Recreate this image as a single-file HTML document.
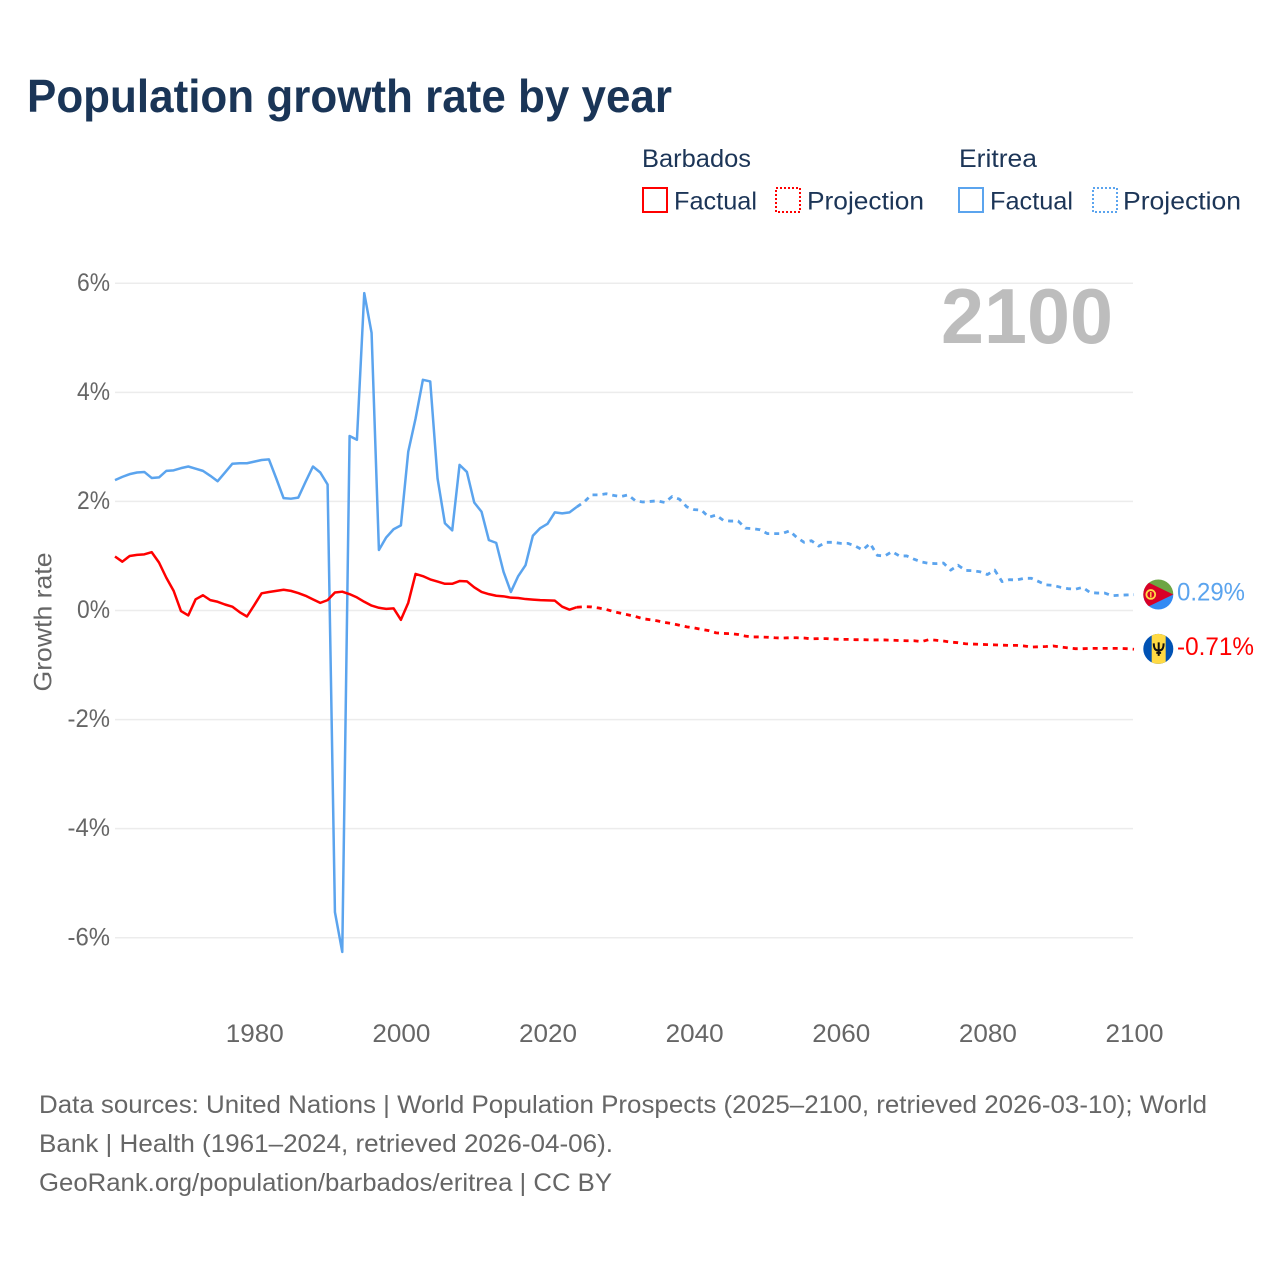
<!DOCTYPE html>
<html lang="en">
<head>
<meta charset="utf-8">
<title>Population growth rate by year</title>
<style>
html,body{margin:0;padding:0;background:#fff;width:1280px;height:1280px;overflow:hidden}
svg{display:block}
text{font-family:"Liberation Sans",sans-serif}
.tick{font-size:25px;fill:#666}
.legend{font-size:25px;fill:#1c3557}
.foot{font-size:25px;fill:#666}
</style>
</head>
<body>
<svg id="chart" width="1280" height="1280" viewBox="0 0 1280 1280" xmlns="http://www.w3.org/2000/svg">
  <defs>
    <clipPath id="eritrea-clip"><circle cx="1158.3" cy="0" r="15"/></clipPath>
    <clipPath id="barbados-clip"><circle cx="1158.3" cy="0" r="15"/></clipPath>
  </defs>
  <text x="27" y="112" font-size="46" font-weight="700" fill="#1a3557" textLength="645" lengthAdjust="spacingAndGlyphs">Population growth rate by year</text>

  <g>
    <text class="legend" x="642" y="167" textLength="109" lengthAdjust="spacingAndGlyphs">Barbados</text>
    <rect x="643" y="188" width="24" height="24" fill="none" stroke="#ff0000" stroke-width="2"/>
    <text class="legend" x="674" y="209.5" textLength="83" lengthAdjust="spacingAndGlyphs">Factual</text>
    <rect x="776" y="188" width="24" height="24" fill="none" stroke="#ff0000" stroke-width="2" stroke-dasharray="2 2"/>
    <text class="legend" x="807" y="209.5" textLength="117" lengthAdjust="spacingAndGlyphs">Projection</text>
    <text class="legend" x="959" y="167" textLength="78" lengthAdjust="spacingAndGlyphs">Eritrea</text>
    <rect x="959" y="188" width="24" height="24" fill="none" stroke="#5ba4ee" stroke-width="2"/>
    <text class="legend" x="990" y="209.5" textLength="83" lengthAdjust="spacingAndGlyphs">Factual</text>
    <rect x="1093" y="188" width="24" height="24" fill="none" stroke="#5ba4ee" stroke-width="2" stroke-dasharray="2 2"/>
    <text class="legend" x="1123" y="209.5" textLength="118" lengthAdjust="spacingAndGlyphs">Projection</text>
  </g>

  <g id="grid"></g>
  <g id="yticks"></g>
  <g id="xticks"></g>

  <text transform="translate(51.5,622) rotate(-90)" text-anchor="middle" font-size="25" fill="#666" textLength="139" lengthAdjust="spacingAndGlyphs">Growth rate</text>

  <text x="941" y="343" font-size="78" font-weight="700" fill="#bdbdbd" textLength="172" lengthAdjust="spacingAndGlyphs">2100</text>

  <g id="series"></g>
  <g id="ends"></g>

  <g>
    <text class="foot" x="39" y="1113" textLength="1168" lengthAdjust="spacingAndGlyphs">Data sources: United Nations | World Population Prospects (2025–2100, retrieved 2026-03-10); World</text>
    <text class="foot" x="39" y="1152" textLength="574" lengthAdjust="spacingAndGlyphs">Bank | Health (1961–2024, retrieved 2026-04-06).</text>
    <text class="foot" x="39" y="1191" textLength="573" lengthAdjust="spacingAndGlyphs">GeoRank.org/population/barbados/eritrea | CC BY</text>
  </g>
</svg>
<script>
const factualStartYear = 1961;
const projectionStartYear = 2024;
const xTickYears = [1980, 2000, 2020, 2040, 2060, 2080, 2100];
const yTickValues = [6, 4, 2, 0, -2, -4, -6];

const barbadosFactual = [0.99,0.895,1.0,1.02,1.03,1.07,0.88,0.60,0.36,-0.01,-0.09,0.205,0.28,0.19,0.16,0.11,0.07,-0.03,-0.11,0.10,0.315,0.34,0.36,0.38,0.36,0.32,0.27,0.205,0.14,0.19,0.33,0.345,0.30,0.24,0.16,0.09,0.05,0.03,0.04,-0.17,0.14,0.67,0.63,0.57,0.53,0.49,0.49,0.54,0.535,0.425,0.34,0.30,0.27,0.26,0.235,0.23,0.21,0.20,0.19,0.185,0.18,0.07,0.015,0.06];
const barbadosProjection = [0.06,0.07,0.065,0.045,0.02,-0.02,-0.05,-0.08,-0.11,-0.15,-0.17,-0.19,-0.22,-0.24,-0.27,-0.30,-0.32,-0.345,-0.37,-0.41,-0.42,-0.425,-0.44,-0.47,-0.485,-0.485,-0.49,-0.50,-0.505,-0.50,-0.50,-0.505,-0.52,-0.515,-0.515,-0.525,-0.53,-0.53,-0.535,-0.535,-0.54,-0.54,-0.54,-0.545,-0.55,-0.555,-0.555,-0.57,-0.535,-0.545,-0.56,-0.58,-0.59,-0.61,-0.615,-0.62,-0.625,-0.63,-0.635,-0.64,-0.64,-0.65,-0.67,-0.665,-0.66,-0.65,-0.67,-0.685,-0.70,-0.70,-0.695,-0.695,-0.695,-0.695,-0.695,-0.70,-0.71];
const eritreaFactual = [2.39,2.45,2.50,2.53,2.54,2.43,2.44,2.56,2.57,2.61,2.64,2.60,2.56,2.47,2.37,2.53,2.69,2.70,2.70,2.73,2.76,2.77,2.42,2.06,2.05,2.07,2.36,2.64,2.53,2.31,-5.53,-6.26,3.2,3.13,5.82,5.09,1.11,1.34,1.49,1.56,2.91,3.52,4.23,4.20,2.42,1.60,1.47,2.67,2.54,1.98,1.81,1.29,1.24,0.71,0.34,0.63,0.83,1.37,1.51,1.59,1.80,1.78,1.80,1.90];
const eritreaProjection = [1.90,1.99,2.12,2.12,2.14,2.11,2.09,2.12,2.01,1.99,2.0,2.01,1.98,2.09,2.04,1.90,1.85,1.84,1.71,1.75,1.65,1.64,1.64,1.51,1.50,1.48,1.41,1.41,1.41,1.46,1.34,1.25,1.28,1.18,1.25,1.25,1.23,1.23,1.18,1.11,1.23,1.01,1.00,1.08,1.00,1.00,0.94,0.89,0.865,0.86,0.87,0.74,0.83,0.735,0.73,0.71,0.66,0.74,0.53,0.565,0.56,0.59,0.59,0.53,0.47,0.46,0.425,0.40,0.39,0.425,0.33,0.32,0.32,0.27,0.28,0.285,0.29];

const NS = 'http://www.w3.org/2000/svg';
function xScale(year) { return 115 + (year - 1961) * (1134 - 115) / (2100 - 1961); }
function yScale(v) { return 610.5 - v * (938 - 283.5) / 12; }
function make(tag, attrs, parent) {
  const el = document.createElementNS(NS, tag);
  for (const k in attrs) el.setAttribute(k, attrs[k]);
  parent.appendChild(el);
  return el;
}
function pathFrom(values, startYear) {
  return values.map((v, i) => (i ? 'L' : 'M') + xScale(startYear + i).toFixed(2) + ' ' + yScale(v).toFixed(2)).join(' ');
}
function labelWidth(s) {
  let w = 0;
  for (const c of s) w += c === '%' ? 20 : c === '-' ? 9.5 : 14.5;
  return w;
}

const gridG = document.getElementById('grid');
const yG = document.getElementById('yticks');
yTickValues.forEach(v => {
  const line = make('line', { x1: 115, x2: 1133, y1: yScale(v), y2: yScale(v), stroke: '#ececec', 'stroke-width': 1.5 }, gridG);
  
  
  const label = v + '%';
  const t = make('text', { class: 'tick', x: 110, y: yScale(v) + 7.5, 'text-anchor': 'end', textLength: labelWidth(label) - 1.5, lengthAdjust: 'spacingAndGlyphs' }, yG);
  
  
  t.textContent = label;
});

const xG = document.getElementById('xticks');
xTickYears.forEach(y => {
  const t = make('text', { class: 'tick', x: xScale(y) + 0.5, y: 1042, 'text-anchor': 'middle', textLength: 58, lengthAdjust: 'spacingAndGlyphs' }, xG);
  
  
  t.textContent = y;
});

const seriesG = document.getElementById('series');
const eritreaColor = '#5ba4ee';
const barbadosColor = '#ff0000';
function drawLine(values, startYear, color, dashed) {
  const attrs = { d: pathFrom(values, startYear), fill: 'none', stroke: color, 'stroke-width': dashed ? 2.8 : 2.5, 'stroke-linejoin': 'round' };
  if (dashed) attrs['stroke-dasharray'] = '5 5';
  return make('path', attrs, seriesG);
}
const eLine = drawLine(eritreaFactual, factualStartYear, eritreaColor, false);


const eProj = drawLine(eritreaProjection, projectionStartYear, eritreaColor, true);


const bLine = drawLine(barbadosFactual, factualStartYear, barbadosColor, false);


const bProj = drawLine(barbadosProjection, projectionStartYear, barbadosColor, true);



/* End markers follow the last projected value of each series */
const endsG = document.getElementById('ends');
const eVal = eritreaProjection[eritreaProjection.length - 1];
const bVal = barbadosProjection[barbadosProjection.length - 1];
const eY = yScale(eVal) - 0.2;
const bY = yScale(bVal) - 0.3;
const cx = 1158.3;

document.querySelector('#eritrea-clip circle').setAttribute('cy', eY);
document.querySelector('#barbados-clip circle').setAttribute('cy', bY);

const eFlag = make('g', { 'clip-path': 'url(#eritrea-clip)' }, endsG);


make('rect', { x: cx - 16, y: eY - 16, width: 32, height: 16, fill: '#6da544' }, eFlag);
make('rect', { x: cx - 16, y: eY, width: 32, height: 16, fill: '#338af3' }, eFlag);
make('polygon', { points: (cx - 16) + ',' + (eY - 15) + ' ' + (cx + 15) + ',' + eY + ' ' + (cx - 16) + ',' + (eY + 15), fill: '#d80027' }, eFlag);
make('circle', { cx: cx - 7.5, cy: eY, r: 4.4, fill: 'none', stroke: '#ffda44', 'stroke-width': 1.8 }, eFlag);
make('line', { x1: cx - 7.5, x2: cx - 7.5, y1: eY - 2.5, y2: eY + 3, stroke: '#ffda44', 'stroke-width': 1.4 }, eFlag);

const bFlag = make('g', { 'clip-path': 'url(#barbados-clip)' }, endsG);


make('rect', { x: cx - 16, y: bY - 16, width: 32, height: 32, fill: '#0052b4' }, bFlag);
make('rect', { x: cx - 6.6, y: bY - 16, width: 14, height: 32, fill: '#ffda44' }, bFlag);
make('path', { d: 'M' + (cx - 4.5) + ' ' + (bY - 5.5) + ' C' + (cx - 4.5) + ' ' + (bY + 0.5) + ' ' + (cx - 2.5) + ' ' + (bY + 1.5) + ' ' + (cx + 0.4) + ' ' + (bY + 1.5) + ' C' + (cx + 3.3) + ' ' + (bY + 1.5) + ' ' + (cx + 5.3) + ' ' + (bY + 0.5) + ' ' + (cx + 5.3) + ' ' + (bY - 5.5) + ' M' + (cx + 0.4) + ' ' + (bY - 6.5) + ' V' + (bY + 7) + ' M' + (cx - 2) + ' ' + (bY + 4) + ' H' + (cx + 2.8), fill: 'none', stroke: '#111', 'stroke-width': 2 }, bFlag);

const eText = make('text', { x: 1177, y: yScale(eVal) + 6, 'font-size': 25, fill: eritreaColor, textLength: 68, lengthAdjust: 'spacingAndGlyphs' }, endsG);


eText.textContent = eVal.toFixed(2) + '%';
const bText = make('text', { x: 1177, y: yScale(bVal) + 6, 'font-size': 25, fill: barbadosColor, textLength: 77, lengthAdjust: 'spacingAndGlyphs' }, endsG);


bText.textContent = bVal.toFixed(2) + '%';
</script>
</body>
</html>
